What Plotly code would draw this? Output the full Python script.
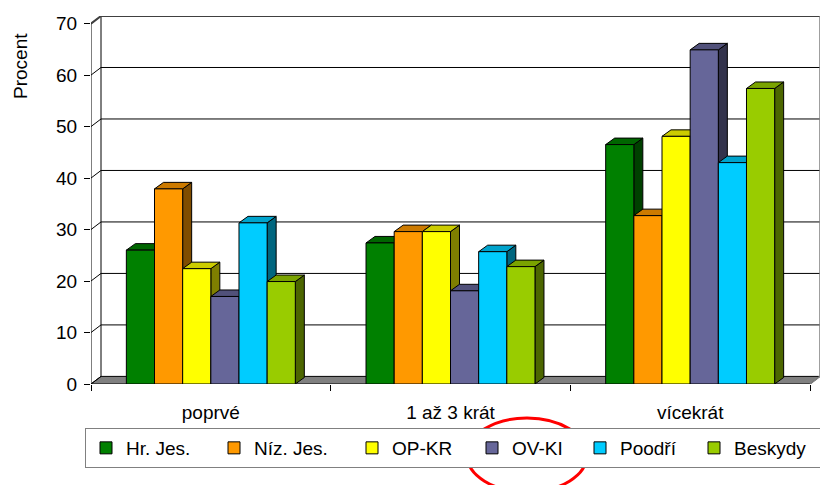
import plotly.graph_objects as go

# ---------------- data ----------------
categories = ["poprvé", "1 až 3 krát", "vícekrát"]
series_names = ["Hr. Jes.", "Níz. Jes.", "OP-KR", "OV-KI", "Poodří", "Beskydy"]
hr_jes = [26.0, 27.4, 46.5]
niz_jes = [37.9, 29.6, 32.7]
op_kr = [22.4, 29.6, 48.1]
ov_ki = [17.0, 18.1, 64.9]
poodri = [31.3, 25.7, 43.0]
beskydy = [19.9, 22.8, 57.4]
y_ticks = [0, 10, 20, 30, 40, 50, 60, 70]
y_title = "Procent"

series_values = [hr_jes, niz_jes, op_kr, ov_ki, poodri, beskydy]

# ---------------- style ----------------
front_colors = ["#008000", "#FF9900", "#FFFF00", "#666699", "#00CCFF", "#99CC00"]
legend_widths = [83, 93, 75, 63, 69, 90]
FONT = "Liberation Sans, Arial, sans-serif"

PAGE_OFF = 8  # default body margin of the html page
W, H = 828 - PAGE_OFF, 485 - PAGE_OFF
ML, MR, MT, MB = 91 - PAGE_OFF, 8, 16 - PAGE_OFF, 101
plot_w = W - ML - MR
plot_h = H - MT - MB

n_cat = len(categories)
x_lo, x_hi_front = -0.5, n_cat - 0.5
px_per_x = (plot_w - 10) / (x_hi_front - x_lo)
wall_dx = 10 / px_per_x
y_top = y_ticks[-1]
y_max = y_top + 7.6 * y_top / (plot_h - 7.6)
px_per_y = plot_h / y_max
wall_dy = y_max - y_top
bar_dx = 9 / px_per_x
bar_dy = 6.5 / px_per_y

group_w = 0.705
n_ser = len(series_names)
bar_w = group_w / n_ser


def shade(hexcol, f):
    h = hexcol.lstrip("#")
    r, g, b = (int(h[i:i + 2], 16) for i in (0, 2, 4))
    return "#%02X%02X%02X" % (int(r * f), int(g * f), int(b * f))


top_colors = [shade(c, 0.8) for c in front_colors]
side_colors = [shade(c, 0.5) for c in front_colors]

fig = go.Figure()

# floor
fig.add_trace(go.Scatter(
    x=[x_lo, x_hi_front, x_hi_front + wall_dx, x_lo + wall_dx, x_lo],
    y=[0, 0, wall_dy, wall_dy, 0],
    mode="lines", fill="toself", fillcolor="#808080",
    line=dict(color="#000000", width=1), showlegend=False, hoverinfo="skip"))

# back-wall gridlines and side-wall diagonals
gx, gy = [], []
for v in y_ticks[1:-1]:
    gx += [x_lo + wall_dx, x_hi_front + wall_dx, None]
    gy += [v + wall_dy, v + wall_dy, None]
for v in y_ticks:
    gx += [x_lo, x_lo + wall_dx, None]
    gy += [v, v + wall_dy, None]
gx += [x_lo + wall_dx, x_lo + wall_dx, None]
gy += [wall_dy, y_top + wall_dy, None]
fig.add_trace(go.Scatter(x=gx, y=gy, mode="lines",
                         line=dict(color="#000000", width=1),
                         showlegend=False, hoverinfo="skip"))
# top border of back wall
fig.add_trace(go.Scatter(x=[x_lo, x_lo + wall_dx, x_hi_front + wall_dx],
                         y=[y_top, y_top + wall_dy, y_top + wall_dy],
                         mode="lines", line=dict(color="#404040", width=2),
                         showlegend=False, hoverinfo="skip"))
# right border of back wall
fig.add_trace(go.Scatter(x=[x_hi_front + wall_dx, x_hi_front + wall_dx, x_hi_front],
                         y=[y_top + wall_dy, wall_dy, 0],
                         mode="lines", line=dict(color="#808080", width=1.5),
                         showlegend=False, hoverinfo="skip"))
# front left axis line
fig.add_trace(go.Scatter(x=[x_lo, x_lo], y=[0, y_top], mode="lines",
                         line=dict(color="#000000", width=1),
                         showlegend=False, hoverinfo="skip"))


def bar_left(ci, si):
    return ci - group_w / 2 + si * bar_w


# side faces
for si, vals in enumerate(series_values):
    xs, ys = [], []
    for ci, v in enumerate(vals):
        xr = bar_left(ci, si) + bar_w
        xs += [xr, xr + bar_dx, xr + bar_dx, xr, xr, None]
        ys += [0, bar_dy, v + bar_dy, v, 0, None]
    fig.add_trace(go.Scatter(x=xs, y=ys, mode="lines", fill="toself",
                             fillcolor=side_colors[si],
                             line=dict(color="#000000", width=1),
                             showlegend=False, hoverinfo="skip"))
# top faces
for si, vals in enumerate(series_values):
    xs, ys = [], []
    for ci, v in enumerate(vals):
        xl = bar_left(ci, si)
        xr = xl + bar_w
        xs += [xl, xl + bar_dx, xr + bar_dx, xr, xl, None]
        ys += [v, v + bar_dy, v + bar_dy, v, v, None]
    fig.add_trace(go.Scatter(x=xs, y=ys, mode="lines", fill="toself",
                             fillcolor=top_colors[si],
                             line=dict(color="#000000", width=1),
                             showlegend=False, hoverinfo="skip"))

# front faces (real bars) on an overlaid subplot so they sit above the 3D faces
for si, (name, vals) in enumerate(zip(series_names, series_values)):
    fig.add_trace(go.Bar(
        x=list(range(n_cat)), y=vals, name=name,
        width=bar_w, offset=-group_w / 2 + si * bar_w,
        marker=dict(color=front_colors[si], line=dict(color="#000000", width=1)),
        xaxis="x2", yaxis="y2", legendwidth=legend_widths[si]))

x_range = [x_lo, x_hi_front + wall_dx]
y_range = [0, y_max]


def px_to_paper_x(px):
    return (px - PAGE_OFF - ML) / plot_w


def px_to_paper_y(py):
    return (H - MB - (py - PAGE_OFF)) / plot_h


fig.update_layout(
    width=W, height=H,
    margin=dict(l=ML, r=MR, t=MT, b=MB, autoexpand=False),
    paper_bgcolor="white", plot_bgcolor="white",
    font=dict(family=FONT, color="#000000", size=18),
    barmode="overlay",
    showlegend=True,
    xaxis=dict(range=x_range, showgrid=False, zeroline=False, showline=False,
               tickmode="array", tickvals=list(range(n_cat)), ticktext=categories,
               ticks="", tickfont=dict(size=19, family=FONT), ticklabelstandoff=15,
               minor=dict(tickmode="array", tickvals=[x_lo + k for k in range(n_cat + 1)],
                          ticks="outside", ticklen=6, tickcolor="#000000", tickwidth=1),
               fixedrange=True),
    yaxis=dict(range=y_range, showgrid=False, zeroline=False, showline=False,
               tickmode="array", tickvals=y_ticks, ticks="outside", ticklen=6,
               tickcolor="#000000", tickfont=dict(size=19, family=FONT),
               ticklabelstandoff=3, fixedrange=True),
    xaxis2=dict(range=x_range, overlaying="x", visible=False, fixedrange=True),
    yaxis2=dict(range=y_range, overlaying="y", visible=False, fixedrange=True),
    legend=dict(orientation="h", x=px_to_paper_x(85), y=px_to_paper_y(428),
                xanchor="left", yanchor="top", bgcolor="white",
                bordercolor="#808080", borderwidth=1,
                font=dict(size=19, family=FONT), itemclick=False,
                itemdoubleclick=False, traceorder="normal"),
    annotations=[dict(text=y_title, textangle=-90, xref="paper", yref="paper",
                      x=px_to_paper_x(20), y=px_to_paper_y(66), showarrow=False,
                      xanchor="center", yanchor="middle",
                      font=dict(size=19, family=FONT))],
    shapes=[dict(type="circle", xref="paper", yref="paper",
                 x0=px_to_paper_x(467), x1=px_to_paper_x(587),
                 y0=px_to_paper_y(418), y1=px_to_paper_y(492),
                 line=dict(color="#FF0000", width=3), layer="above")],
)

fig.write_html("out.html", config={"displayModeBar": False})
